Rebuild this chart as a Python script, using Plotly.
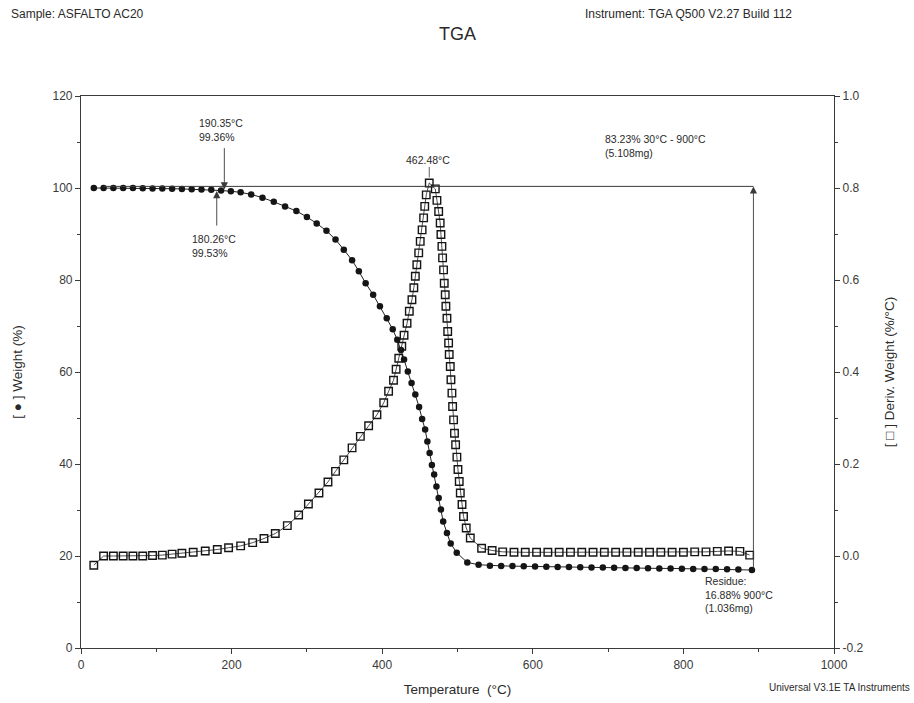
import plotly.graph_objects as go

# ---- data ----
weight_temp = [17, 30, 43, 56, 69, 82, 95, 108, 121, 134, 147, 160, 173, 186, 199, 212,
               226, 241, 256, 271, 286, 300, 313, 326, 338, 349, 360, 369, 378, 388, 397,
               406, 414, 420, 425, 429, 434, 439, 444, 449, 453, 457, 460, 463, 466, 469,
               472, 475, 478, 481, 486, 491, 499, 513, 528, 543, 558, 573, 588, 603, 618,
               633, 648, 663, 678, 693, 708, 723, 738, 753, 768, 783, 798, 813, 828, 843,
               858, 873, 891]
weight_pct = [100.0, 100.0, 100.0, 100.0, 100.0, 99.95, 99.9, 99.9, 99.85, 99.8, 99.75, 99.7,
              99.6, 99.45, 99.3, 99.05, 98.6, 97.9, 97.0, 96.0, 95.0, 93.7, 92.3, 90.7, 88.8,
              86.6, 84.3, 81.9, 79.3, 76.8, 74.3, 71.7, 69.3, 67.0, 64.8, 62.7, 60.1, 57.6,
              55.1, 52.4, 49.8, 47.5, 44.9, 42.4, 39.8, 37.7, 35.1, 32.6, 30.1, 27.5, 25.0,
              22.7, 20.7, 18.6, 18.1, 17.9, 17.85, 17.8, 17.75, 17.7, 17.65, 17.6, 17.6,
              17.55, 17.5, 17.5, 17.45, 17.4, 17.4, 17.35, 17.3, 17.3, 17.25, 17.2, 17.2,
              17.15, 17.1, 17.05, 16.95]

deriv_temp = [17, 30, 43, 56, 69, 82, 95, 108, 121, 134, 149, 165, 181, 196, 212, 228, 243,
              258, 274, 289, 302, 316, 328, 338, 349, 360, 371, 382, 393, 402, 408.5, 415,
              418.5, 422, 426, 429, 433, 436, 439.5, 442, 444, 446, 448.5, 450.5, 453, 455,
              456.5, 458.5, 462.5, 470.5, 472.7, 475, 477, 478, 479.3, 480.2, 481.5, 482.4,
              483.7, 484.6, 486, 487, 488.2, 489, 490.4, 491.3, 492.6, 493.5, 494.8, 496,
              497.5, 499.2, 500.6, 502.3, 503.7, 506, 508, 511.6, 517, 532, 546, 560, 575,
              590, 605, 620, 635, 650, 665, 680, 695, 710, 725, 740, 755, 770, 785, 800,
              815, 830, 845, 860, 875, 888]
deriv_val = [-0.02, 0.0, 0.0, 0.0, 0.0, 0.0, 0.001, 0.002, 0.004, 0.006, 0.008, 0.011, 0.014,
             0.018, 0.022, 0.029, 0.038, 0.049, 0.066, 0.089, 0.113, 0.137, 0.161, 0.184,
             0.209, 0.235, 0.26, 0.283, 0.307, 0.333, 0.358, 0.382, 0.406, 0.43, 0.456, 0.48,
             0.506, 0.532, 0.557, 0.583, 0.608, 0.633, 0.659, 0.684, 0.709, 0.735, 0.76,
             0.785, 0.811, 0.798, 0.773, 0.749, 0.724, 0.699, 0.673, 0.648, 0.622, 0.593,
             0.568, 0.543, 0.517, 0.488, 0.463, 0.438, 0.412, 0.383, 0.354, 0.325, 0.296,
             0.267, 0.242, 0.215, 0.188, 0.162, 0.137, 0.112, 0.086, 0.061, 0.039, 0.017,
             0.012, 0.009, 0.008, 0.008, 0.008, 0.008, 0.008, 0.008, 0.008, 0.008, 0.008,
             0.008, 0.008, 0.008, 0.008, 0.008, 0.008, 0.008, 0.009, 0.009, 0.010, 0.011,
             0.010, 0.002]

x_ticks = [0, 200, 400, 600, 800, 1000]
y_ticks = [0, 20, 40, 60, 80, 100, 120]
y2_ticks = [-0.2, 0.0, 0.2, 0.4, 0.6, 0.8, 1.0]
y2_labels = ["-0.2", "0.0", "0.2", "0.4", "0.6", "0.8", "1.0"]

onset1 = (190.35, 99.36)
onset2 = (180.26, 99.53)
peak_t = 462.48
step_start_t, step_end_t, step_level = 30, 893, 100.35
residue_w = 16.95

FONT = "Liberation Sans, Arial, sans-serif"
TXT = "#2a2a2a"
AX = "#3a3a3a"

fig = go.Figure()
fig.add_trace(go.Scatter(
    x=weight_temp, y=weight_pct, mode="lines+markers",
    line=dict(color="#222222", width=1),
    marker=dict(symbol="circle", size=6.5, color="#151515"),
    showlegend=False))
fig.add_trace(go.Scatter(
    x=deriv_temp, y=deriv_val, mode="lines+markers", yaxis="y2",
    line=dict(color="#222222", width=0.8),
    marker=dict(symbol="square-open", size=7.5, color="#151515", line=dict(width=1.4)),
    showlegend=False))

# step-change horizontal line and peak tick
fig.add_shape(type="line", xref="x", yref="y", x0=step_start_t, x1=step_end_t,
              y0=step_level, y1=step_level, line=dict(color=AX, width=1))
fig.add_shape(type="line", xref="x", yref="y", x0=peak_t, x1=peak_t, y0=102.3, y1=104.6,
              line=dict(color=AX, width=0.8))

arrow_common = dict(showarrow=True, arrowhead=2, arrowsize=1.6, arrowwidth=0.9,
                    arrowcolor=AX, axref="x", ayref="y", xref="x", yref="y", text="")
fig.add_annotation(x=onset1[0], y=onset1[1] + 0.3, ax=onset1[0], ay=109.0, **arrow_common)
fig.add_annotation(x=onset2[0], y=onset2[1] - 0.2, ax=onset2[0], ay=91.5, **arrow_common)
fig.add_annotation(x=step_end_t, y=step_level, ax=step_end_t, ay=residue_w, **arrow_common)

tfont = dict(family=FONT, size=10.5, color=TXT)
labels = [
    (154, 115.9, "left", "top", "190.35°C<br>99.36%"),
    (145, 90.6, "left", "top", "180.26°C<br>99.53%"),
    (peak_t - 2, 104.4, "center", "bottom", "462.48°C"),
    (693, 112.3, "left", "top", "83.23% 30°C - 900°C<br>(5.108mg)"),
    (826, 16.3, "left", "top", "Residue:<br>16.88% 900°C<br>(1.036mg)"),
]
for x, y, xa, ya, t in labels:
    fig.add_annotation(x=x, y=y, xref="x", yref="y", xanchor=xa, yanchor=ya, align="left",
                       showarrow=False, text=t, font=tfont)

L, R, T, B = 80.5, 80, 96, 55
W_ = 914 - L - R
H_ = 703 - T - B
def pp(px, py, text, font, xa="left", ya="middle"):
    fig.add_annotation(x=(px - L) / W_, y=(703 - B - py) / H_, xref="paper", yref="paper",
                       xanchor=xa, yanchor=ya, showarrow=False, text=text, font=font)

hdr = dict(family=FONT, size=12, color=TXT)
pp(8, 14, "Sample: ASFALTO AC20", hdr)
pp(583, 14, "Instrument: TGA Q500 V2.27 Build 112", hdr)
pp(457, 34, "TGA", dict(family=FONT, size=18, color=TXT), xa="center")
pp(912, 687, "Universal V3.1E TA Instruments", dict(family=FONT, size=10, color=TXT), xa="right")

fig.update_layout(
    width=914, height=703,
    margin=dict(l=L, r=R, t=T, b=B),
    paper_bgcolor="white", plot_bgcolor="white",
    font=dict(family=FONT, color=TXT, size=11),
    xaxis=dict(range=[0, 1000], tickvals=x_ticks, ticks="outside", ticklen=5,
               tickcolor=AX, showline=True, linecolor=AX, linewidth=1.2, mirror=True,
               showgrid=False, zeroline=False, automargin=False,
               minor=dict(dtick=100, ticks="outside", ticklen=3, tickcolor=AX),
               tickfont=dict(size=12, color="#3a3a3a"),
               title=dict(text="Temperature  (°C)", font=dict(size=13.5, color=TXT), standoff=14)),
    yaxis=dict(range=[0, 120], tickvals=y_ticks, ticks="outside", ticklen=5,
               tickcolor=AX, showline=True, linecolor=AX, linewidth=1.2,
               showgrid=False, zeroline=False, automargin=False,
               minor=dict(dtick=10, ticks="outside", ticklen=3, tickcolor=AX),
               tickfont=dict(size=12, color="#3a3a3a"),
               title=dict(text="[ ● ] Weight (%)", font=dict(size=13.5, color=TXT), standoff=26)),
    yaxis2=dict(range=[-0.2, 1.0], tickvals=y2_ticks, ticktext=y2_labels, overlaying="y",
                side="right", ticks="outside", ticklen=5, tickcolor=AX, showline=True,
                linecolor=AX, linewidth=1.2, showgrid=False, zeroline=False, automargin=False,
                minor=dict(dtick=0.1, ticks="outside", ticklen=3, tickcolor=AX),
                tickfont=dict(size=12, color="#3a3a3a"),
                title=dict(text="[ □ ] Deriv. Weight (%/°C)", font=dict(size=13.5, color=TXT),
                           standoff=22)),
)

fig.write_html("out.html")
